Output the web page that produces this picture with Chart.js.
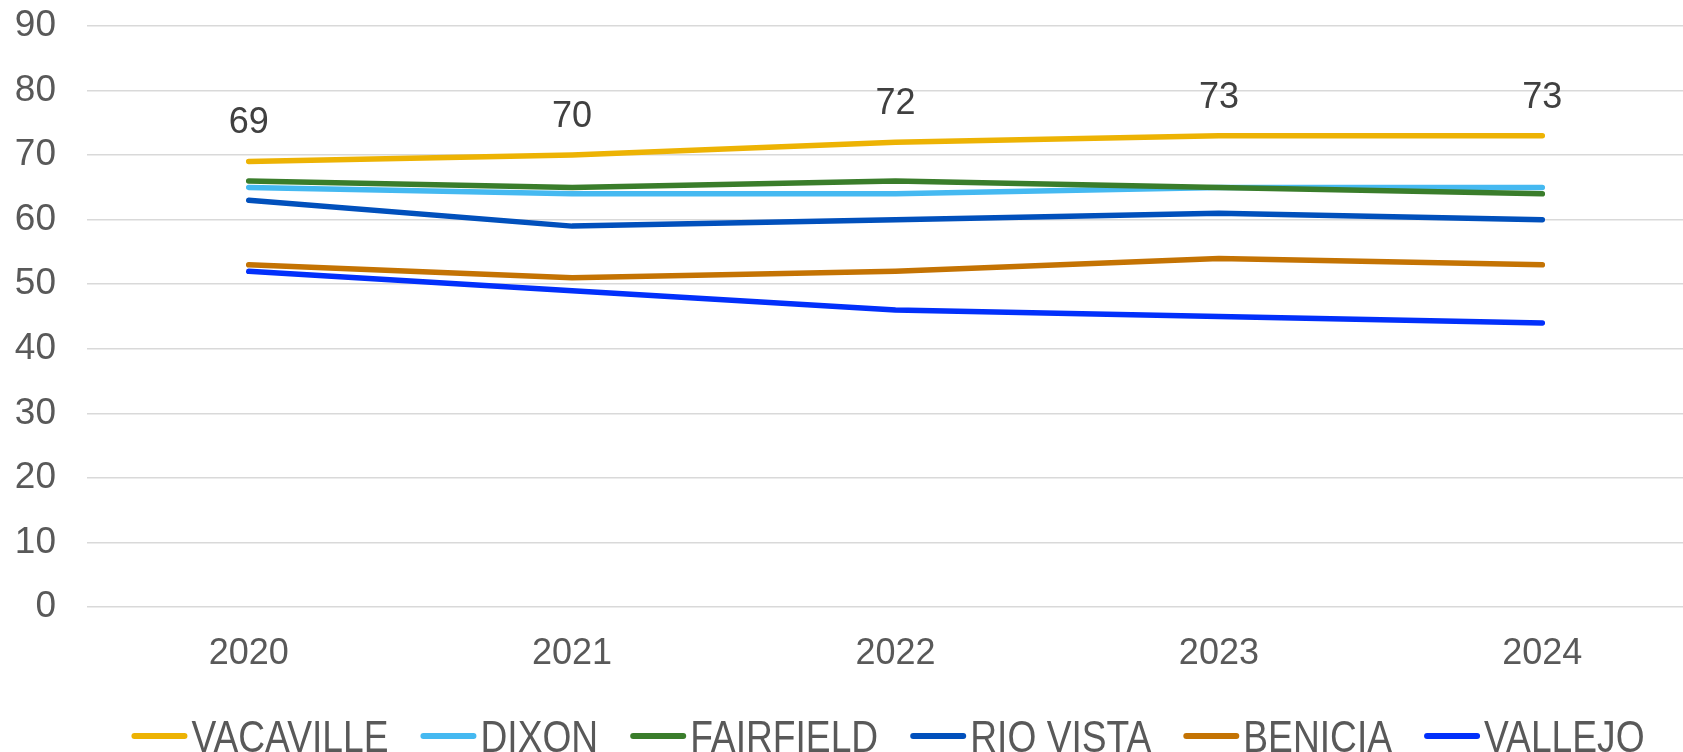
<!DOCTYPE html>
<html>
<head>
<meta charset="utf-8">
<script src="https://cdn.jsdelivr.net/npm/chart.js@4.4.1/dist/chart.umd.min.js"></script>
<style>
  html, body { margin: 0; padding: 0; background: #fff; }
  #frame { width: 1683px; height: 752px; overflow: hidden; }
  /* the plot area of the original runs a little past the right edge */
  #wrap { width: 1704px; height: 752px; position: relative; }
</style>
</head>
<body>
<div id="frame"><div id="wrap"><canvas id="chart"></canvas></div></div>
<script>
const years = ['2020', '2021', '2022', '2023', '2024'];
const cities = ['VACAVILLE', 'DIXON', 'FAIRFIELD', 'RIO VISTA', 'BENICIA', 'VALLEJO'];
const vacaville = [69, 70, 72, 73, 73];
const dixon = [65, 64, 64, 65, 65];
const fairfield = [66, 65, 66, 65, 64];
const rioVista = [63, 59, 60, 61, 60];
const benicia = [53, 51, 52, 54, 53];
const vallejo = [52, 49, 46, 45, 44];
const yTicks = [0, 10, 20, 30, 40, 50, 60, 70, 80, 90];

const colors = ['#EDB304', '#45B9F1', '#3A7D2B', '#0150BC', '#C47303', '#0230FB'];
const series = [vacaville, dixon, fairfield, rioVista, benicia, vallejo];

const FONT = 'Liberation Sans, Arial, sans-serif';

// value labels above the first series, like Excel's data labels
const valueLabels = {
  id: 'valueLabels',
  afterDatasetsDraw(chart) {
    const meta = chart.getDatasetMeta(0);
    const ctx = chart.ctx;
    ctx.save();
    ctx.font = '36px ' + FONT;
    ctx.fillStyle = '#404040';
    ctx.textAlign = 'center';
    ctx.textBaseline = 'middle';
    meta.data.forEach((pt, i) => {
      ctx.fillText(String(vacaville[i]), pt.x, pt.y - 38);
    });
    ctx.restore();
  }
};

// the legend in the original is set in a narrow face, so it is drawn by hand
const narrowLegend = {
  id: 'narrowLegend',
  afterDraw(chart) {
    const ctx = chart.ctx;
    const sx = 0.845;
    const markW = 56, gap = 4, space = 32;
    ctx.save();
    ctx.font = '44px ' + FONT;
    const items = chart.data.datasets.map(ds => ({
      text: ds.label,
      color: ds.borderColor,
      w: ctx.measureText(ds.label).width * sx
    }));
    const total = items.reduce((s, it) => s + markW + gap + it.w, 0) + space * (items.length - 1);
    let x = 888 - total / 2;
    const y = 736;
    items.forEach(it => {
      ctx.strokeStyle = it.color;
      ctx.lineWidth = 6;
      ctx.lineCap = 'round';
      ctx.beginPath();
      ctx.moveTo(x + 3, y);
      ctx.lineTo(x + markW - 3, y);
      ctx.stroke();
      x += markW + gap;
      ctx.save();
      ctx.translate(x, 752);
      ctx.scale(sx, 1);
      ctx.fillStyle = '#595959';
      ctx.textBaseline = 'alphabetic';
      ctx.fillText(it.text, 0, 0);
      ctx.restore();
      x += it.w + space;
    });
    ctx.restore();
  }
};

const ctx = document.getElementById('chart').getContext('2d');
new Chart(ctx, {
  type: 'line',
  data: {
    labels: years,
    datasets: cities.map((name, i) => ({
      label: name,
      data: series[i],
      borderColor: colors[i],
      backgroundColor: colors[i],
      borderWidth: 5.5,
      borderCapStyle: 'round',
      borderJoinStyle: 'round',
      pointRadius: 0,
      tension: 0,
      order: cities.length - i
    }))
  },
  options: {
    responsive: true,
    maintainAspectRatio: false,
    animation: false,
    layout: { autoPadding: false, padding: { top: 26, right: 0, left: 0, bottom: 55 } },
    scales: {
      x: {
        offset: true,
        grid: { display: false },
        border: { display: false },
        ticks: { color: '#595959', font: { family: FONT, size: 36 }, padding: 17 },
        afterFit(scale) { scale.height = 90; }
      },
      y: {
        min: 0,
        max: 90,
        afterBuildTicks(scale) { scale.ticks = yTicks.map(v => ({ value: v })); },
        grid: { color: '#D9D9D9', lineWidth: 1.5, drawTicks: false },
        border: { display: false },
        ticks: { color: '#595959', font: { family: FONT, size: 37 }, padding: 31 },
        afterFit(scale) {
          scale.width = 87;
          scale.paddingTop = 0;
          scale.paddingBottom = 0;
        }
      }
    },
    plugins: {
      legend: { display: false },
      tooltip: { enabled: false }
    }
  },
  plugins: [valueLabels, narrowLegend]
});
</script>
</body>
</html>
